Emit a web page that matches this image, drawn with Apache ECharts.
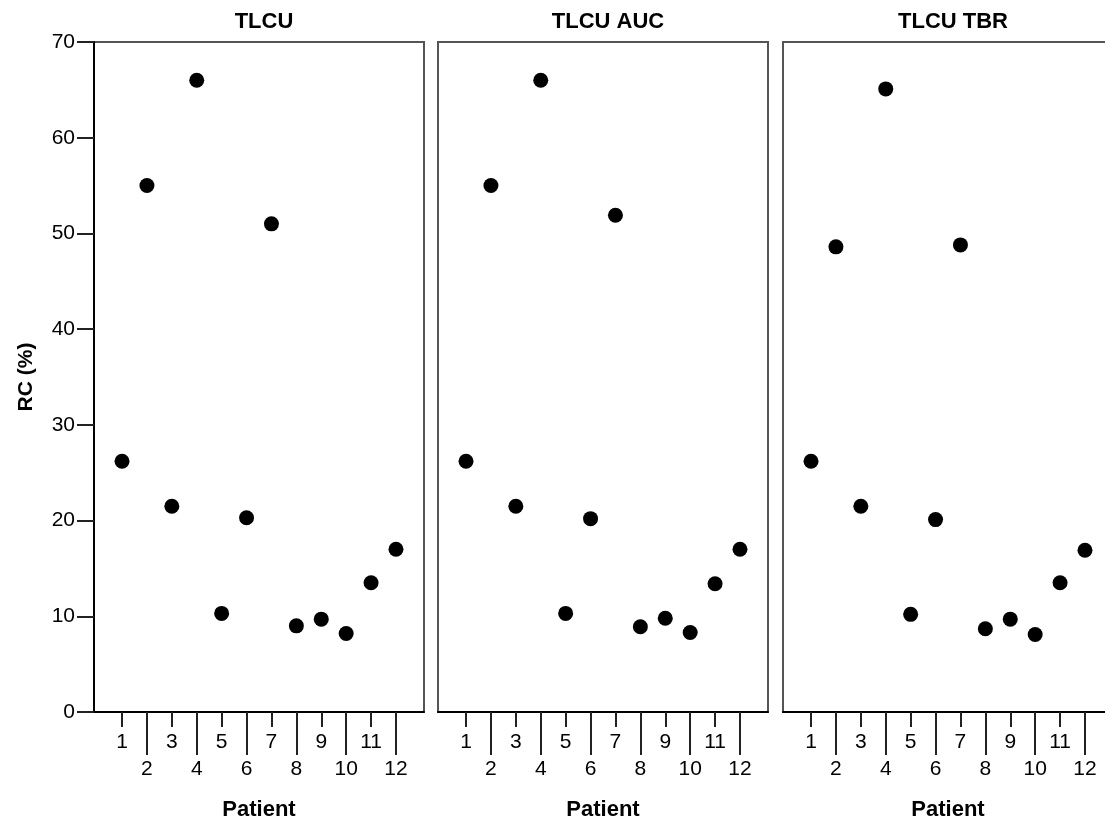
<!DOCTYPE html>
<html>
<head>
<meta charset="utf-8">
<title>RC (%) by patient</title>
<script src="https://cdn.jsdelivr.net/npm/echarts@6/dist/echarts.min.js"></script>
<style>
    html, body { margin: 0; padding: 0; background: #fff; }
    #main { width: 1105px; height: 823px; }
</style>
</head>
<body>
<div id="main"></div>
<script>
// data
var patients = [1, 2, 3, 4, 5, 6, 7, 8, 9, 10, 11, 12];
var tlcu    = [26.2, 55.0, 21.5, 66.0, 10.3, 20.3, 51.0, 9.0, 9.7, 8.2, 13.5, 17.0];
var tlcuAuc = [26.2, 55.0, 21.5, 66.0, 10.3, 20.2, 51.9, 8.9, 9.8, 8.3, 13.4, 17.0];
var tlcuTbr = [26.2, 48.6, 21.5, 65.1, 10.2, 20.1, 48.8, 8.7, 9.7, 8.1, 13.5, 16.9];
var panelNames = ['TLCU', 'TLCU AUC', 'TLCU TBR'];
var oddTicks = [1, 3, 5, 7, 9, 11];
var evenTicks = [2, 4, 6, 8, 10, 12];
var yTicks = [0, 10, 20, 30, 40, 50, 60, 70];

(function(){
    var chart = echarts.init(document.getElementById('main'));
    var font = '"Liberation Sans", Arial, sans-serif';
    var panelData = [tlcu, tlcuAuc, tlcuTbr];
    var lefts = [94, 438, 783];

    var grids = [], xAxes = [], yAxes = [], series = [], titles = [];

    for (var i = 0; i < 3; i++) {
        // one boxed panel per measure
        grids.push({
            left: lefts[i], top: 42, width: 330, height: 670,
            outerBoundsMode: 'none',
            show: true, borderColor: '#555', borderWidth: 2, backgroundColor: 'transparent'
        });
        titles.push({
            text: panelNames[i],
            left: lefts[i] + 165, top: 6, textAlign: 'center',
            textStyle: { fontFamily: font, fontSize: 22, fontWeight: 'bold', color: '#000' }
        });
        // odd ticks: short, upper row of labels
        xAxes.push({
            type: 'value', gridIndex: i, position: 'bottom', min: -0.125, max: 13.125,
            splitLine: { show: false },
            axisLine: { show: true, onZero: false, lineStyle: { color: '#000', width: 2 } },
            axisTick: { show: true, length: 15, customValues: oddTicks, lineStyle: { color: '#222', width: 2 } },
            axisLabel: { show: true, customValues: oddTicks, margin: 20, fontFamily: font, fontSize: 21, color: '#000' },
            name: 'Patient', nameLocation: 'middle', nameGap: 87,
            nameTextStyle: { fontFamily: font, fontSize: 22, fontWeight: 'bold', color: '#000' }
        });
        // even ticks: long, lower row of labels
        xAxes.push({
            type: 'value', gridIndex: i, position: 'bottom', offset: 0, min: -0.125, max: 13.125,
            splitLine: { show: false },
            axisLine: { show: false, onZero: false },
            axisTick: { show: true, length: 43, customValues: evenTicks, lineStyle: { color: '#222', width: 2 } },
            axisLabel: { show: true, customValues: evenTicks, margin: 47, fontFamily: font, fontSize: 21, color: '#000' }
        });
        yAxes.push({
            type: 'value', gridIndex: i, min: 0, max: 70, interval: 10,
            splitLine: { show: false },
            axisLine: { show: i === 0, onZero: false, lineStyle: { color: '#000', width: 2 } },
            axisTick: { show: i === 0, length: 17, customValues: yTicks, lineStyle: { color: '#222', width: 2 } },
            axisLabel: { show: i === 0, margin: 19, fontFamily: font, fontSize: 21, color: '#000' },
            name: i === 0 ? 'RC (%)' : '', nameLocation: 'middle', nameGap: 57,
            nameTextStyle: { fontFamily: font, fontSize: 21, fontWeight: 'bold', color: '#000' }
        });
        series.push({
            name: panelNames[i],
            type: 'scatter',
            xAxisIndex: i * 2, yAxisIndex: i,
            symbolSize: 15,
            itemStyle: { color: '#000', opacity: 1 },
            data: patients.map(function(p, k){ return [p, panelData[i][k]]; })
        });
    }

    var option = {
        animation: false,
        title: titles,
        grid: grids,
        xAxis: xAxes,
        yAxis: yAxes,
        series: series
    };

    chart.setOption(option);
})();
</script>
</body>
</html>
